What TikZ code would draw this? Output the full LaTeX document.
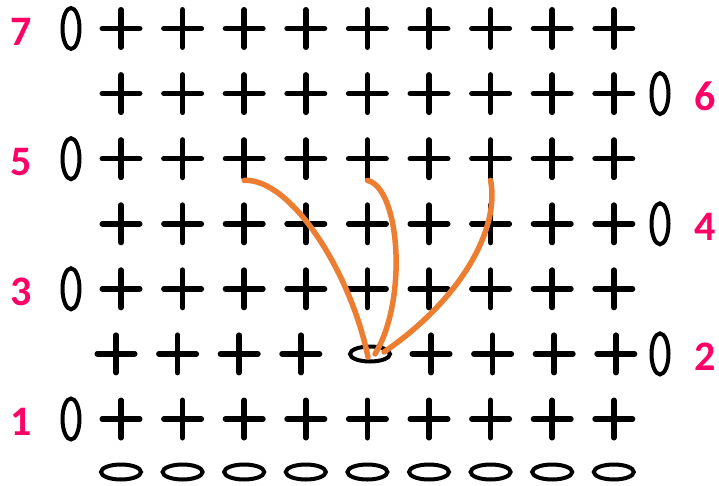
\documentclass[tikz,border=0pt]{standalone}
\usepackage{fontspec}
\setmainfont{Carlito}
\usetikzlibrary{shapes.geometric,calc}
\definecolor{numpink}{RGB}{255,0,102}
\definecolor{curveorange}{RGB}{237,125,49}
\tikzset{
  stitch/.style={rectangle,minimum size=43pt,inner sep=0pt,
    path picture={\draw[line width=5.5pt,line cap=round]
      ([xshift=2.75pt]path picture bounding box.west) -- ([xshift=-2.75pt]path picture bounding box.east)
      ([yshift=-2.75pt]path picture bounding box.north) -- ([yshift=2.75pt]path picture bounding box.south);}},
  chainv/.style={ellipse,draw,line width=4pt,minimum width=17pt,minimum height=41pt,inner sep=0pt},
  chainh/.style={ellipse,draw,line width=4pt,minimum width=40pt,minimum height=15pt,inner sep=0pt},
  rownum/.style={text=numpink,font=\fontsize{42}{42}\selectfont\bfseries,inner sep=0pt},
  pullup/.style={draw=curveorange,line width=5.5pt,line cap=round},
}
\begin{document}
\begin{tikzpicture}[x=1pt,y=-1pt]
\useasboundingbox (0,0) rectangle (719,486);
% full rows of single crochet
\foreach \r/\y in {1/419,3/288.8,4/223.8,5/158.7,6/93.6,7/28.5}{
  \foreach \c in {1,...,9}{
    \node[stitch] (s\r-\c) at ({121+61.6*(\c-1)},\y) {};
  }
}
% row 2
\foreach \c in {1,...,4}{
  \node[stitch] (s2-\c) at ({116+61.6*(\c-1)},353.9) {};
}
\node[chainh] (o) at (370,354) {};
\foreach \c in {6,...,9}{
  \node[stitch] (s2-\c) at ({123+61.6*(\c-1)},353.9) {};
}
% foundation chain
\foreach \c in {1,...,9}{
  \node[chainh] (b\c) at ({121+61.6*(\c-1)},472) {};
}
% turning chains and row numbers
\foreach \r/\y in {1/419,3/288.8,5/158.7,7/28.5}{
  \node[chainv] (l\r) at (71,\y) {};
  \node[rownum] (n\r) at (21,\y+3) {\r};
}
\foreach \r/\y in {2/353.9,4/223.8,6/93.6}{
  \node[chainv] (r\r) at (660,\y) {};
  \node[rownum] (n\r) at (705,\y+3) {\r};
}
% pulled-up loops
\coordinate (e1) at ($(o)+(-2,3)$);
\coordinate (e2) at ($(o)+(5,0)$);
\coordinate (e3) at ($(o)+(14,-2)$);
\draw[pullup] (s5-3.south) .. controls (290,178) and (350,270) .. (e1);
\draw[pullup] (s5-5.south) .. controls (400,188) and (408,300) .. (e2);
\draw[pullup] (s5-7.south) .. controls (500,230) and (460,300) .. (e3);
\end{tikzpicture}
\end{document}
